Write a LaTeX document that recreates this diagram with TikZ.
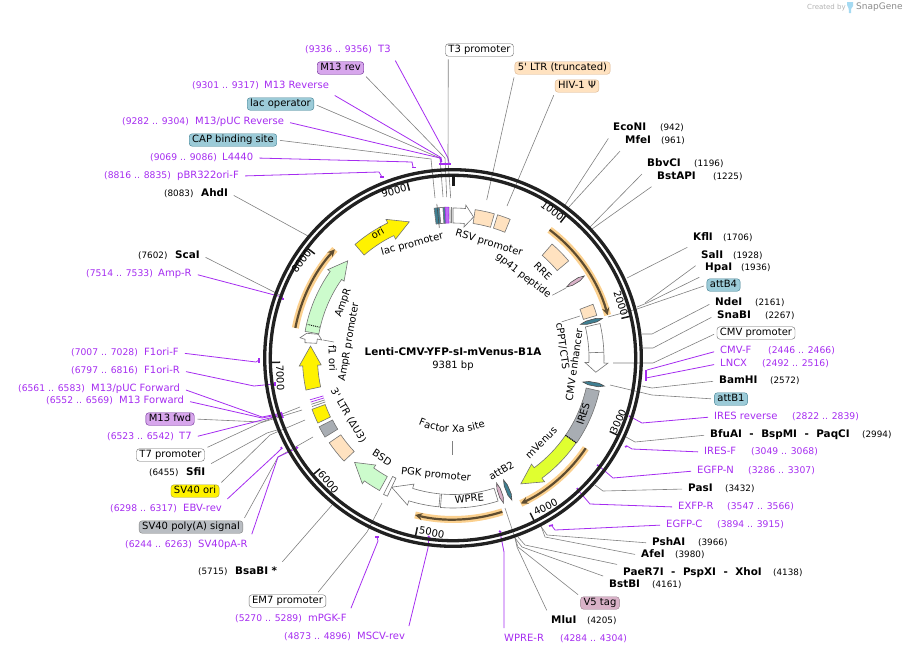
\documentclass[tikz,border=0pt]{standalone}
\usepackage{fontspec}
\setmainfont{DejaVu Sans}
\usetikzlibrary{decorations.text}
\definecolor{primer}{HTML}{A52CF0}
\definecolor{leader}{HTML}{808080}
\definecolor{peach}{HTML}{FFE2C0}
\definecolor{teal}{HTML}{3F7F92}
\definecolor{attblue}{HTML}{9CCBD8}
\definecolor{plum}{HTML}{D7A6EC}
\definecolor{pinktag}{HTML}{D9B2C8}
\definecolor{greyfeat}{HTML}{A8ADB3}
\definecolor{mint}{HTML}{CCFBCC}
\definecolor{venus}{HTML}{E0FF30}
\definecolor{halo}{HTML}{FBD08E}
\definecolor{orfdark}{HTML}{5E4C30}
\definecolor{logoblue}{HTML}{A5DAF2}
\tikzset{
    every node/.style = {text height=7.5pt, text depth=2pt},
    lab/.style = {inner sep=3pt, anchor=west, font=\fontsize{10}{12}\selectfont},
    site/.style = {lab, font=\fontsize{10.4}{12}\bfseries\selectfont},
    primername/.style = {lab, text=primer},
    poslab/.style = {lab, inner sep=0pt, font=\fontsize{8.8}{12}\selectfont},
    rng/.style = {poslab, text=primer, font=\fontsize{9.2}{12}\selectfont},
    tagbox/.style = {draw, rounded corners=3pt, inner xsep=3pt, inner ysep=1.5pt, font=\fontsize{10}{12}\selectfont},
    whitebox/.style = {tagbox, draw=black!60, fill=white},
    peachbox/.style = {tagbox, draw=brown!60, fill=peach},
    plumbox/.style = {tagbox, draw=primer!60!black, fill=plum},
    attbox/.style = {tagbox, draw=teal, fill=attblue},
    yellowbox/.style = {tagbox, draw=yellow!60!black, fill=yellow},
    greybox/.style = {tagbox, draw=black!50, fill=greyfeat!80},
    pinkbox/.style = {tagbox, draw=pinktag!70!black, fill=pinktag},
    feat/.style = {inner sep=0pt, font=\fontsize{10}{12}\selectfont},
    siteline/.style = {draw=leader, line width=0.6pt, shorten <=3pt},
    primerline/.style = {draw=primer, line width=0.8pt, shorten <=3pt},
    primertick/.style = {draw=primer, line width=1.6pt},
    ring/.style = {draw=black!87, line width=3.3pt},
    tickmark/.style = {draw=black!90, line width=1.5pt},
    ticklab/.style = {inner sep=0pt, font=\fontsize{10}{12}\selectfont},
    outline/.style = {draw=black!55, line width=0.6pt},
}
% angles run clockwise from east, the picture has its y axis downwards
\newcommand{\featbox}[5]{\draw[outline,#1] (#2:#5) arc[start angle=#2, end angle=#3, radius=#5] -- (#3:#4) arc[start angle=#3, end angle=#2, radius=#4] -- cycle;}
\newcommand{\featarrow}[7]{\draw[outline,#1] (#2:{#5+#6}) arc[start angle=#2, end angle=#3, radius=#5+#6] -- (#3:{#5+#7}) -- (#4:#5) -- (#3:{#5-#7}) -- (#3:{#5-#6}) arc[start angle=#3, end angle=#2, radius=#5-#6] -- cycle;}
\newcommand{\spindle}[4]{\draw[draw=black!70, line width=0.6pt, fill=#1] (#2:#3) -- ({#2-0.7}:{#3+6}) -- ({#2-0.7}:{#4-6}) -- (#2:#4) -- ({#2+0.7}:{#4-6}) -- ({#2+0.7}:{#3+6}) -- cycle;}
\newcommand{\orfarc}[3]{\draw[halo, line width=7pt] (#1:#3) arc[start angle=#1, end angle=#2, radius=#3];
    \draw[orfdark, line width=2.2pt, -stealth] (#1:#3) arc[start angle=#1, end angle=#2, radius=#3];}
\begin{document}
\begin{tikzpicture}[x=1pt, y=-1pt]
    \useasboundingbox (0,0) rectangle (904,656);

    % logo corner
    \node[lab, inner sep=0pt, text=black!30, font=\fontsize{7}{9}\selectfont] (created) at (807,7) {Created by};
    \node[lab, inner sep=0pt, text=black!45, font=\fontsize{9}{9}\selectfont] (snapgene) at (856,7) {SnapGene};
    \fill[logoblue] (847,2) -- (853,2) -- (853,6) .. controls (851,7) and (851,10) .. (851,13) -- (849,13) .. controls (849,9) and (848,6) .. (847,5) -- cycle;

    % name in the middle
    \node[feat, font=\fontsize{10.4}{12}\bfseries\selectfont] (title) at (453,353) {Lenti-CMV-YFP-sI-mVenus-B1A};
    \node[feat] (size) at (453,366) {9381 bp};

    % labels on top and left, primers first
    \node[rng] (t3-pos) at (305,50) {(9336 .. 9356)};
    \node[primername] (t3) at (375,50) {T3};
    \node[rng] (m13rev-pos) at (192,86) {(9301 .. 9317)};
    \node[primername] (m13rev) at (261,86) {M13 Reverse};
    \node[rng] (pucrev-pos) at (122,122) {(9282 .. 9304)};
    \node[primername] (pucrev) at (192,122) {M13/pUC Reverse};
    \node[rng] (l4440-pos) at (150,158) {(9069 .. 9086)};
    \node[primername] (l4440) at (219,158) {L4440};
    \node[rng] (pbr-pos) at (104,176) {(8816 .. 8835)};
    \node[primername] (pbr) at (174,176) {pBR322ori-F};
    \node[rng] (ampr-pos) at (86,274) {(7514 .. 7533)};
    \node[primername] (ampr) at (155,274) {Amp-R};
    \node[rng] (f1f-pos) at (71,353) {(7007 .. 7028)};
    \node[primername] (f1f) at (141,353) {F1ori-F};
    \node[rng] (f1r-pos) at (71,371) {(6797 .. 6816)};
    \node[primername] (f1r) at (141,371) {F1ori-R};
    \node[rng] (pucf-pos) at (18,389) {(6561 .. 6583)};
    \node[primername] (pucf) at (88,389) {M13/pUC Forward};
    \node[rng] (m13f-pos) at (46,401) {(6552 .. 6569)};
    \node[primername] (m13f) at (116,401) {M13 Forward};
    \node[rng] (t7-pos) at (107,437) {(6523 .. 6542)};
    \node[primername] (t7) at (176,437) {T7};
    \node[rng] (ebv-pos) at (110,509) {(6298 .. 6317)};
    \node[primername] (ebv) at (180,509) {EBV-rev};
    \node[rng] (svpar-pos) at (125,545) {(6244 .. 6263)};
    \node[primername] (svpar) at (195,545) {SV40pA-R};
    \node[rng] (mpgk-pos) at (235,619) {(5270 .. 5289)};
    \node[primername] (mpgk) at (305,619) {mPGK-F};
    \node[rng] (mscv-pos) at (284,637) {(4873 .. 4896)};
    \node[primername] (mscv) at (354,637) {MSCV-rev};
    \node[primername] (wprer) at (501,639) {WPRE-R};
    \node[rng] (wprer-pos) at (560,639) {(4284 .. 4304)};

    % sites on the left
    \node[poslab] (ahdi-pos) at (164,194) {(8083)};
    \node[site] (ahdi) at (198,194) {AhdI};
    \node[poslab] (scai-pos) at (138,256) {(7602)};
    \node[site] (scai) at (172,256) {ScaI};
    \node[poslab] (sfii-pos) at (149,473) {(6455)};
    \node[site] (sfii) at (183,473) {SfiI};
    \node[poslab] (bsabi-pos) at (198,572) {(5715)};
    \node[site] (bsabi) at (232,572) {BsaBI *};

    % boxed features
    \node[whitebox] (t3p) at (479.5,50) {T3 promoter};
    \node[plumbox] (mrev) at (340.5,68) {M13 rev};
    \node[peachbox] (ltr5) at (562.5,68) {5\textquotesingle{} LTR (truncated)};
    \node[peachbox] (psi) at (577,86) {HIV-1 Ψ};
    \node[attbox] (lacop) at (280.5,104) {lac operator};
    \node[attbox] (cap) at (233,140) {CAP binding site};
    \node[plumbox] (mfwd) at (170,419) {M13 fwd};
    \node[whitebox] (t7p) at (170.5,455) {T7 promoter};
    \node[yellowbox] (svori) at (195,491) {SV40 ori};
    \node[greybox] (svpa) at (191,527) {SV40 poly(A) signal};
    \node[whitebox] (em7) at (287.5,601) {EM7 promoter};
    \node[attbox] (attb4) at (723.5,285) {attB4};
    \node[whitebox] (cmvp) at (756,333) {CMV promoter};
    \node[attbox] (attb1) at (731,399) {attB1};
    \node[pinkbox] (v5) at (600,603) {V5 tag};

    % sites on the right
    \node[site] (econi) at (610,128) {EcoNI};
    \node[poslab] (econi-pos) at (660,128) {(942)};
    \node[site] (mfei) at (622,141) {MfeI};
    \node[poslab] (mfei-pos) at (661,141) {(961)};
    \node[site] (bbvci) at (644,164) {BbvCI};
    \node[poslab] (bbvci-pos) at (694,164) {(1196)};
    \node[site] (bstapi) at (654,177) {BstAPI};
    \node[poslab] (bstapi-pos) at (713,177) {(1225)};
    \node[site] (kfli) at (690,238) {KflI};
    \node[poslab] (kfli-pos) at (723,238) {(1706)};
    \node[site] (sali) at (698,256) {SalI};
    \node[poslab] (sali-pos) at (733,256) {(1928)};
    \node[site] (hpai) at (702,268) {HpaI};
    \node[poslab] (hpai-pos) at (741,268) {(1936)};
    \node[site] (ndei) at (712,303) {NdeI};
    \node[poslab] (ndei-pos) at (755,303) {(2161)};
    \node[site] (snabi) at (714,316) {SnaBI};
    \node[poslab] (snabi-pos) at (765,316) {(2267)};
    \node[primername] (cmvf) at (717,351) {CMV-F};
    \node[rng] (cmvf-pos) at (768,351) {(2446 .. 2466)};
    \node[primername] (lncx) at (717,364) {LNCX};
    \node[rng] (lncx-pos) at (762,364) {(2492 .. 2516)};
    \node[site] (bamhi) at (716,381) {BamHI};
    \node[poslab] (bamhi-pos) at (770,381) {(2572)};
    \node[primername] (iresrev) at (711,417) {IRES reverse};
    \node[rng] (iresrev-pos) at (792,417) {(2822 .. 2839)};
    \node[site] (bfuai) at (707,435) {BfuAI\hspace{7.5pt}-\hspace{7.5pt}BspMI\hspace{7.5pt}-\hspace{7.5pt}PaqCI};
    \node[poslab] (bfuai-pos) at (862,435) {(2994)};
    \node[primername] (iresf) at (701,452) {IRES-F};
    \node[rng] (iresf-pos) at (751,452) {(3049 .. 3068)};
    \node[primername] (egfpn) at (694,471) {EGFP-N};
    \node[rng] (egfpn-pos) at (748,471) {(3286 .. 3307)};
    \node[site] (pasi) at (685,489) {PasI};
    \node[poslab] (pasi-pos) at (725,489) {(3432)};
    \node[primername] (exfpr) at (675,507) {EXFP-R};
    \node[rng] (exfpr-pos) at (727,507) {(3547 .. 3566)};
    \node[primername] (egfpc) at (663,525) {EGFP-C};
    \node[rng] (egfpc-pos) at (717,525) {(3894 .. 3915)};
    \node[site] (pshai) at (649,543) {PshAI};
    \node[poslab] (pshai-pos) at (698,543) {(3966)};
    \node[site] (afei) at (638,555) {AfeI};
    \node[poslab] (afei-pos) at (675,555) {(3980)};
    \node[site] (paer) at (620,573) {PaeR7I\hspace{7.5pt}-\hspace{7.5pt}PspXI\hspace{7.5pt}-\hspace{7.5pt}XhoI};
    \node[poslab] (paer-pos) at (773,573) {(4138)};
    \node[site] (bstbi) at (606,585) {BstBI};
    \node[poslab] (bstbi-pos) at (652,585) {(4161)};
    \node[site] (mlui) at (548,621) {MluI};
    \node[poslab] (mlui-pos) at (587,621) {(4205)};

    % leader ends
    \coordinate (t3-a) at (448,158); \coordinate (t3-b) at (449,163);
    \coordinate (mrev-a) at (445,158); \coordinate (mrev-b) at (446.7,197);
    \coordinate (m13rev-a) at (440,157); \coordinate (m13rev-b) at (441,162);
    \coordinate (lacop-a) at (440,158); \coordinate (lacop-b) at (443,197);
    \coordinate (pucrev-a) at (440,158); \coordinate (pucrev-b) at (441,163);
    \coordinate (cap-a) at (431,159); \coordinate (cap-b) at (435,198);
    \coordinate (l4440-a) at (412,162); \coordinate (l4440-b) at (413,167);
    \coordinate (pbr-a) at (379,172); \coordinate (pbr-b) at (382,177);
    \coordinate (t3p-a) at (448,160); \coordinate (t3p-b) at (450.7,198);
    \coordinate (ltr5-b) at (486.7,200);
    \coordinate (psi-b) at (507,206);
    \coordinate (ahdi-b) at (308,236);
    \coordinate (scai-b) at (282,296);
    \coordinate (ampr-a) at (282,297); \coordinate (ampr-b) at (283,299);
    \coordinate (f1f-a) at (256,362); \coordinate (f1f-b) at (259,360);
    \coordinate (f1r-a) at (254,386); \coordinate (f1r-b) at (274,384);
    \coordinate (pucf-a) at (262,417); \coordinate (pucf-b) at (282,413);
    \coordinate (m13f-a) at (262,418); \coordinate (m13f-b) at (282,414);
    \coordinate (mfwd-a) at (262,422); \coordinate (mfwd-b) at (300,407);
    \coordinate (t7-a) at (262,420); \coordinate (t7-b) at (282,415);
    \coordinate (t7p-a) at (260,423); \coordinate (t7p-b) at (302,410);
    \coordinate (sfii-a) at (267,433); \coordinate (sfii-b) at (277,430);
    \coordinate (svori-a) at (270,435); \coordinate (svori-b) at (305,420);
    \coordinate (ebv-a) at (278,452); \coordinate (ebv-b) at (282,448);
    \coordinate (svpa-a) at (278,457); \coordinate (svpa-b) at (313,437);
    \coordinate (svpar-a) at (278,457); \coordinate (svpar-b) at (297,448);
    \coordinate (bsabi-b) at (332,505);
    \coordinate (em7-a) at (367,532); \coordinate (em7-b) at (382,503);
    \coordinate (mpgk-a) at (378,541); \coordinate (mpgk-b) at (377,537);
    \coordinate (mscv-a) at (428,548); \coordinate (mscv-b) at (429,537);
    \coordinate (wprer-a) at (504,552); \coordinate (wprer-b) at (500,532);
    \coordinate (econi-b) at (565,205);
    \coordinate (mfei-b) at (568,208);
    \coordinate (bbvci-b) at (590,227);
    \coordinate (bstapi-b) at (592,229);
    \coordinate (kfli-b) at (627,278);
    \coordinate (sali-b) at (645,303);
    \coordinate (hpai-a) at (647,303); \coordinate (hpai-b) at (637,307);
    \coordinate (attb4-a) at (637,309); \coordinate (attb4-b) at (608,317);
    \coordinate (ndei-a) at (652,334); \coordinate (ndei-b) at (642,334);
    \coordinate (snabi-a) at (653,348); \coordinate (snabi-b) at (642,348);
    \coordinate (cmvp-a) at (653,363); \coordinate (cmvp-b) at (613,363);
    \coordinate (cmvf-b) at (647,370);
    \coordinate (lncx-b) at (646,378);
    \coordinate (bamhi-a) at (652,388); \coordinate (bamhi-b) at (642,386);
    \coordinate (attb1-a) at (652,395); \coordinate (attb1-b) at (610,385);
    \coordinate (iresrev-a) at (642,423); \coordinate (iresrev-b) at (631,417);
    \coordinate (bfuai-a) at (635,442); \coordinate (bfuai-b) at (626,437);
    \coordinate (iresf-a) at (632,449); \coordinate (iresf-b) at (627,446);
    \coordinate (egfpn-a) at (613,478); \coordinate (egfpn-b) at (599,466);
    \coordinate (pasi-a) at (603,491); \coordinate (pasi-b) at (595,485);
    \coordinate (exfpr-a) at (590,504); \coordinate (exfpr-b) at (578,490);
    \coordinate (egfpc-a) at (555,530); \coordinate (egfpc-b) at (552,526);
    \coordinate (pshai-a) at (547,535); \coordinate (pshai-b) at (540,525);
    \coordinate (afei-a) at (545,537); \coordinate (afei-b) at (541,526);
    \coordinate (paer-a) at (525,545); \coordinate (paer-b) at (518,537);
    \coordinate (bstbi-a) at (522,547); \coordinate (bstbi-b) at (515,538);
    \coordinate (v5-a) at (518,547); \coordinate (v5-b) at (505,508);
    \coordinate (mlui-a) at (517,547); \coordinate (mlui-b) at (515,538);

    % leaders, gray ones for sites and boxes, purple ones for primers
    \draw[primerline] (t3.south east) -- (t3-a) -- (t3-b);
    \draw[siteline] (mrev.south east) -- (mrev-a) -- (mrev-b);
    \draw[primerline] (m13rev.south east) -- (m13rev-a) -- (m13rev-b);
    \draw[siteline] (lacop.east) -- (lacop-a) -- (lacop-b);
    \draw[primerline] (pucrev.east) -- (pucrev-a) -- (pucrev-b);
    \draw[siteline] (cap.east) -- (cap-a) -- (cap-b);
    \draw[primerline] (l4440.east) -- (l4440-a) -- (l4440-b);
    \draw[primerline] (pbr.east) -- (pbr-a) -- (pbr-b);
    \draw[siteline] ([xshift=3pt]t3p.south west) -- (t3p-a) -- (t3p-b);
    \draw[siteline] (ltr5.south west) -- (ltr5-b);
    \draw[siteline] (psi.south west) -- (psi-b);
    \draw[siteline] (ahdi.east) -- (ahdi-b);
    \draw[siteline] (scai.east) -- (scai-b);
    \draw[primerline] (ampr.east) -- (ampr-a) -- (ampr-b);
    \draw[primerline] (f1f.east) -- (f1f-a) -- (f1f-b);
    \draw[primerline] (f1r.east) -- (f1r-a) -- (f1r-b);
    \draw[primerline] (pucf.east) -- (pucf-a) -- (pucf-b);
    \draw[primerline] (m13f.east) -- (m13f-a) -- (m13f-b);
    \draw[siteline] (mfwd.east) -- (mfwd-a) -- (mfwd-b);
    \draw[primerline] (t7.east) -- (t7-a) -- (t7-b);
    \draw[siteline] (t7p.north east) -- (t7p-a) -- (t7p-b);
    \draw[siteline] (sfii.north east) -- (sfii-a) -- (sfii-b);
    \draw[siteline] (svori.north east) -- (svori-a) -- (svori-b);
    \draw[primerline] (ebv.north east) -- (ebv-a) -- (ebv-b);
    \draw[siteline] (svpa.north east) -- (svpa-a) -- (svpa-b);
    \draw[primerline] (svpar.north east) -- (svpar-a) -- (svpar-b);
    \draw[siteline] (bsabi.north east) -- (bsabi-b);
    \draw[siteline] ([xshift=-10pt]em7.north east) -- (em7-a) -- (em7-b);
    \draw[primerline] (mpgk.north east) -- (mpgk-a) -- (mpgk-b);
    \draw[primerline] (mscv.north east) -- (mscv-a) -- (mscv-b);
    \draw[primerline] ([xshift=3pt]wprer.north west) -- (wprer-a) -- (wprer-b);
    \draw[siteline] (econi.south west) -- (econi-b);
    \draw[siteline] (mfei.south west) -- (mfei-b);
    \draw[siteline] (bbvci.south west) -- (bbvci-b);
    \draw[siteline] (bstapi.south west) -- (bstapi-b);
    \draw[siteline] (kfli.south west) -- (kfli-b);
    \draw[siteline] (sali.south west) -- (sali-b);
    \draw[siteline] (hpai.south west) -- (hpai-a) -- (hpai-b);
    \draw[siteline] (attb4.west) -- (attb4-a) -- (attb4-b);
    \draw[siteline] (ndei.west) -- (ndei-a) -- (ndei-b);
    \draw[siteline] (snabi.west) -- (snabi-a) -- (snabi-b);
    \draw[siteline] (cmvp.west) -- (cmvp-a) -- (cmvp-b);
    \draw[primerline] (cmvf.west) -- (cmvf-b);
    \draw[primerline] (lncx.west) -- (lncx-b);
    \draw[siteline] (bamhi.west) -- (bamhi-a) -- (bamhi-b);
    \draw[siteline] (attb1.west) -- (attb1-a) -- (attb1-b);
    \draw[primerline] (iresrev.west) -- (iresrev-a) -- (iresrev-b);
    \draw[siteline] (bfuai.west) -- (bfuai-a) -- (bfuai-b);
    \draw[primerline] (iresf.west) -- (iresf-a) -- (iresf-b);
    \draw[primerline] (egfpn.west) -- (egfpn-a) -- (egfpn-b);
    \draw[siteline] (pasi.west) -- (pasi-a) -- (pasi-b);
    \draw[primerline] (exfpr.west) -- (exfpr-a) -- (exfpr-b);
    \draw[primerline] (egfpc.west) -- (egfpc-a) -- (egfpc-b);
    \draw[siteline] (pshai.west) -- (pshai-a) -- (pshai-b);
    \draw[siteline] (afei.west) -- (afei-a) -- (afei-b);
    \draw[siteline] (paer.north west) -- (paer-a) -- (paer-b);
    \draw[siteline] (bstbi.north west) -- (bstbi-a) -- (bstbi-b);
    \draw[siteline] (v5.north west) -- (v5-a) -- (v5-b);
    \draw[siteline] (mlui.north west) -- (mlui-a) -- (mlui-b);

    % primer marks
    \draw[primertick] (439,164) -- (451,164);
    \draw[primertick] (440.5,157) -- (441.5,162);
    \draw[primertick] (412,167.5) -- (416,167.5);
    \draw[primertick] (380,177) -- (384,177);
    \draw[primertick] (282,299) -- (284,299);
    \draw[primertick] (259,358) -- (259,363);
    \draw[primertick] (275,382) -- (275,386);
    \draw[primertick] (281,412) -- (283,418);
    \draw[primertick] (281,447) -- (282,449);
    \draw[primertick] (296,447) -- (298,448);
    \draw[primertick] (375,537) -- (379,537);
    \draw[primertick] (428,536) -- (430,538);
    \draw[primertick] (499,531) -- (501,532);
    \draw[primertick] (646,370) -- (646,381);
    \draw[primertick] (629,416) -- (631,417);
    \draw[primertick] (625,447) -- (627,446);
    \draw[primertick] (597,465) -- (599,466);
    \draw[primertick] (577,488) -- (578,490);
    \draw[primertick] (549,526) -- (553,525);

    \begin{scope}[shift={(453,358)}]
        % the two rings and the thousands
        \draw[ring] (0,0) circle[radius=188.3];
        \draw[ring] (0,0) circle[radius=182.7];
        \draw[draw=black!90, line width=3pt] (-90:172) -- (-90:183);
        \draw[tickmark] (-51.6:173) -- (-51.6:182);
        \draw[tickmark] (-13.25:173) -- (-13.25:182);
        \draw[tickmark] (25.1:173) -- (25.1:182);
        \draw[tickmark] (63.5:173) -- (63.5:182);
        \draw[tickmark] (101.9:173) -- (101.9:182);
        \draw[tickmark] (140.2:173) -- (140.2:182);
        \draw[tickmark] (178.6:173) -- (178.6:182);
        \draw[tickmark] (217:173) -- (217:182);
        \draw[tickmark] (255.4:173) -- (255.4:182);

        % open reading frames
        \orfarc{-53}{-15.5}{160.5}
        \orfarc{34.2}{65}{160.5}
        \orfarc{72.2}{103.6}{161.5}
        \orfarc{190.8}{222.6}{160.5}

        % features
        \featarrow{fill=yellow}{229.2}{244.2}{252.2}{143}{7}{11}
        \featarrow{fill=mint}{190.2}{215.2}{222.7}{143.3}{7}{10}
        \draw[densely dotted, line width=0.9pt] (193:137) -- (193:149);
        \featarrow{fill=yellow}{167.7}{177}{184.8}{143}{7.5}{11}
        \featbox{fill=yellow}{154.3}{160}{136}{150}
        \featbox{fill=greyfeat}{148.3}{152.8}{135.5}{150.5}
        \featbox{fill=peach}{136.6}{145.6}{136}{150}
        \draw[primer, line width=0.7pt] (162.8:135) -- (162.8:149);
        \draw[primer, line width=0.7pt] (163.7:135) -- (163.7:149);
        \draw[leader, line width=0.7pt] (161.9:135) -- (161.9:149);
        \draw[leader, line width=0.7pt] (161:135) -- (161:149);
        \featarrow{fill=mint}{119}{125.8}{133.3}{143.5}{8}{11.5}
        \featbox{fill=white}{115.4}{117}{133}{153}
        \featarrow{fill=white}{95.4}{107.2}{115.4}{143}{6.5}{11}
        \featbox{fill=white}{72.5}{94.8}{136.5}{150}
        \spindle{pinktag}{70.8}{132.5}{153.4}
        \spindle{teal}{67.5}{132}{153.8}
        \featarrow{fill=venus}{34.5}{53.5}{61.7}{143}{6.5}{11}
        \featbox{fill=greyfeat}{12.7}{34.5}{136.5}{150}
        \draw[densely dotted, line width=1pt] (34.5:136.5) -- (34.5:150);
        \spindle{teal}{10.5}{132}{154}
        \featarrow{fill=white}{-13.2}{1.9}{5.7}{143.5}{7.5}{11.5}
        \draw[outline] (-2.2:136) -- (-2.2:151);
        \spindle{teal}{-14.8}{132}{154.5}
        \featbox{fill=peach}{-21}{-16.5}{136}{150}
        \spindle{pinktag}{-32}{134}{154.8}
        \featbox{fill=peach}{-49}{-40}{136}{151}
        \featbox{fill=peach}{-72.7}{-67.6}{136}{150}
        \featbox{fill=peach}{-81.5}{-74}{136}{150}
        \featarrow{fill=white}{-90}{-85.2}{-81.7}{142.5}{7.5}{11}
        \featbox{fill=teal}{-97.2}{-95.2}{135}{151}
        \featbox{fill=white}{-95.2}{-93.8}{135}{151}
        \featbox{fill=teal}{-93.8}{-93}{135}{151}
        \featbox{draw=primer, fill=primer!70}{-93}{-91.7}{135}{151}
        \draw[leader, line width=0.7pt] (-91.2:135) -- (-91.2:151);
        \draw[leader, line width=0.7pt] (-90.6:135) -- (-90.6:151);
        \draw[black!70, line width=0.6pt] (-96:131) -- (-96:155);
    \end{scope}

    % small white arrow of the AmpR promoter
    \draw[outline, fill=white] (300,337.7) -- (306.7,333.3) -- (318.3,334.3) -- (321.7,340) -- (317.3,339) -- (316.7,343.3) -- (305,342.7) -- (305,339.3) -- cycle;

    % short inner leaders
    \coordinate (ampp-a) at (323,340); \coordinate (ampp-b) at (334,342);
    \coordinate (gp41-b) at (566,288); \coordinate (cppt-b) at (580,316);
    \coordinate (factor-a) at (452.5,441); \coordinate (factor-b) at (452.5,455);
    \draw[siteline, shorten <=0pt] (ampp-a) -- (ampp-b);
    \draw[siteline, shorten <=0pt] (factor-a) -- (factor-b);

    % labels round the inside
    \node[ticklab, rotate=-38] (tick1) at (551.7,211.7) {1000};
    \node[ticklab, rotate=-72] (tick2) at (620,303.3) {2000};
    \node[ticklab, rotate=65] (tick3) at (619,421.7) {3000};
    \node[ticklab, rotate=27] (tick4) at (546,507.7) {4000};
    \node[ticklab, rotate=-10] (tick5) at (431.7,533.3) {5000};
    \node[ticklab, rotate=-50] (tick6) at (327.7,482.7) {6000};
    \node[ticklab, rotate=-88] (tick7) at (279.3,377.7) {7000};
    \node[ticklab, rotate=53] (tick8) at (302,262) {8000};
    \node[ticklab, rotate=15] (tick9) at (394.3,191.7) {9000};
    \node[feat, rotate=30] (ori-lab) at (378,234) {ori};
    \node[feat, rotate=15] (lacp-lab) at (412.3,244.3) {lac promoter};
    \node[feat, rotate=-17] (rsv-lab) at (489,243.3) {RSV promoter};
    \node[feat, rotate=-38] (gp41-lab) at (523.3,276) {gp41 peptide};
    \node[feat, rotate=-45] (rre-lab) at (542.3,271.7) {RRE};
    \node[feat, rotate=70] (ampr-lab) at (343.3,302.7) {AmpR};
    \node[feat, rotate=80] (ampp-lab) at (349,342) {AmpR promoter};
    \node[feat, rotate=-88] (f1-lab) at (331.7,358) {f1 ori};
    \node[feat, rotate=-60] (ltr3-lab) at (348,416) {3\textquotesingle{} LTR (ΔU3)};
    \node[feat, rotate=-33] (bsd-lab) at (381.7,458.3) {BSD};
    \node[feat, rotate=-6] (pgk-lab) at (436,475) {PGK promoter};
    \node[feat, rotate=5] (wpre-lab) at (469.3,499.3) {WPRE};
    \node[feat, rotate=30] (attb2-lab) at (501.7,471.7) {attB2};
    \node[feat, rotate=45] (venus-lab) at (541.7,443.3) {mVenus};
    \node[feat, rotate=72] (ires-lab) at (584,414) {IRES};
    \node[feat, rotate=82] (cmve-lab) at (575,365) {CMV enhancer};
    \node[feat, rotate=-82] (cppt-lab) at (562,346) {cPPT/CTS};
    \path[decorate, decoration={text along path, text={Factor Xa site}, text align=center}, font=\fontsize{10}{12}\selectfont] (414,423) .. controls (435,433) and (460,437) .. (490,425);
    \draw[siteline] (gp41-lab.east) -- (gp41-b);
    \draw[siteline] (cppt-lab.west) -- (cppt-b);
\end{tikzpicture}
\end{document}
